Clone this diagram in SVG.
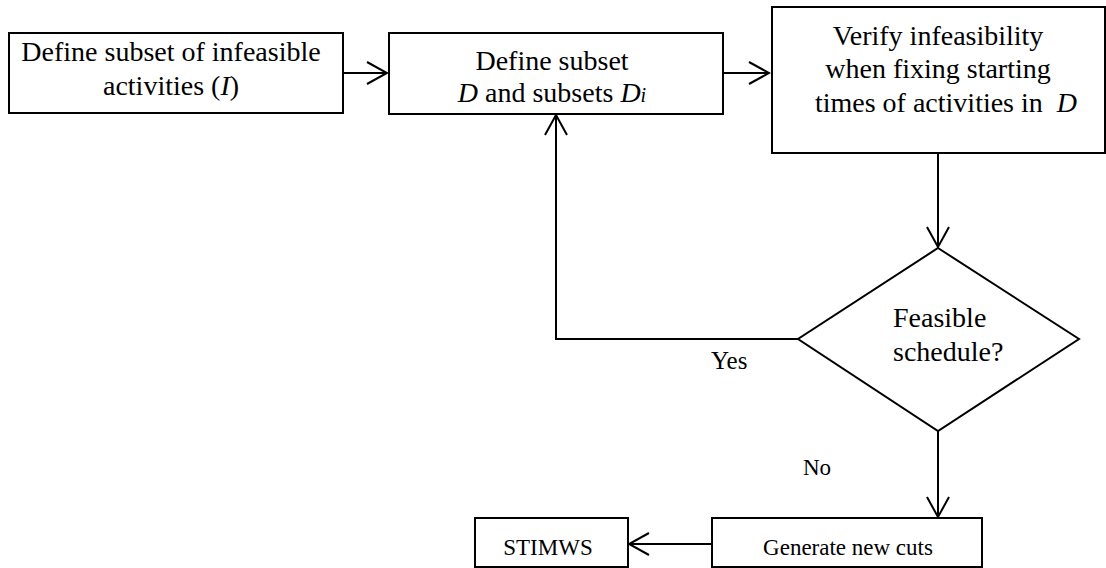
<svg xmlns="http://www.w3.org/2000/svg" width="1106" height="568" viewBox="0 0 1106 568">
<style>
text{font-family:'Liberation Serif','Times New Roman',serif;fill:#000}
.t{font-size:28px}
.s{font-size:23px}
.c{text-anchor:middle}
.box{fill:#fff;stroke:#000;stroke-width:2}
.con{fill:none;stroke:#000;stroke-width:2}
</style>
<defs>
<marker id="ah" markerUnits="userSpaceOnUse" viewBox="0 0 24 24" markerWidth="24" markerHeight="24" refX="22" refY="12" orient="auto">
<path d="M2,1 L22,12 L2,23" fill="none" stroke="#000" stroke-width="2"/>
</marker>
</defs>
<rect width="1106" height="568" fill="#fff"/>
<g id="connectors">
<path class="con" d="M343,73 H387" marker-end="url(#ah)"/>
<path class="con" d="M723,73 H769" marker-end="url(#ah)"/>
<path class="con" d="M938,153 V247" marker-end="url(#ah)"/>
<path class="con" d="M798,339 H556 V115" marker-end="url(#ah)"/>
<path class="con" d="M938,431 V517" marker-end="url(#ah)"/>
<path class="con" d="M712,544 H629" marker-end="url(#ah)"/>
<text x="711" y="369" font-size="25">Yes</text>
<text class="s" x="803" y="475">No</text>
</g>
<g id="n1">
<rect class="box" x="9" y="33" width="334" height="80"/>
<text class="t c" x="171" y="61">Define subset of infeasible</text>
<text class="t c" x="171" y="95">activities (<tspan font-style="italic">I</tspan>)</text>
</g>
<g id="n2">
<rect class="box" x="389" y="33" width="334" height="81"/>
<text class="t c" x="552" y="70">Define subset</text>
<text class="t c" x="552" y="102"><tspan font-style="italic">D</tspan> and subsets <tspan font-style="italic">D<tspan font-size="20">i</tspan></tspan></text>
</g>
<g id="n3">
<rect class="box" x="772" y="7" width="333" height="146"/>
<text class="t c" x="938" y="45">Verify infeasibility</text>
<text class="t c" x="938" y="78">when fixing starting</text>
<text class="t c" x="946" y="112" xml:space="preserve">times of activities in  <tspan font-style="italic">D</tspan></text>
</g>
<g id="n4">
<polygon class="box" points="938,248 1079,339 938,431 798,339"/>
<text class="t" x="893" y="327">Feasible</text>
<text class="t" x="893" y="361">schedule?</text>
</g>
<g id="n5">
<rect class="box" x="712" y="518" width="270" height="49"/>
<text class="s c" x="848" y="555">Generate new cuts</text>
</g>
<g id="n6">
<rect class="box" x="475" y="518" width="153" height="49"/>
<text class="s c" x="548" y="555">STIMWS</text>
</g>
</svg>
